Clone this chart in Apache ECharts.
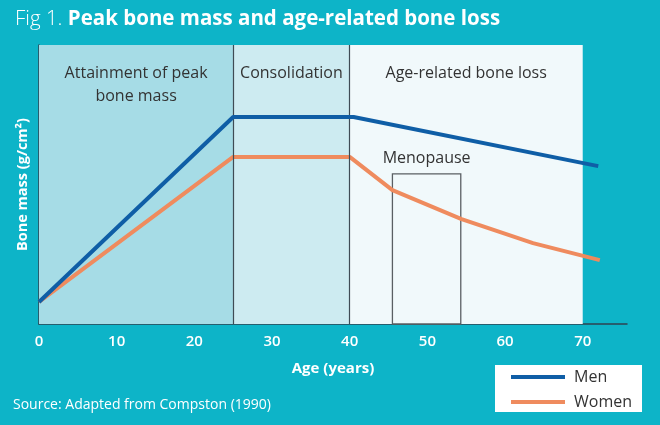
<!DOCTYPE html>
<html>
<head>
<meta charset="utf-8">
<script src="https://cdn.jsdelivr.net/npm/echarts@6/dist/echarts.min.js"></script>
<style>
html,body{margin:0;padding:0;background:#0db4c8;}
#c{width:660px;height:425px;}
</style>
</head>
<body>
<div id="c"></div>
<script>
// ---- data ----
var menData = [[0, 7.9], [25, 74.2], [40.5, 74.2], [72, 56.6]];
var womenData = [[0, 7.9], [25, 59.9], [40, 59.9], [45.5, 48.0], [54.4, 37.6], [63.6, 29.0], [72.2, 22.9]];
var phaseBounds = [0, 25, 40, 70];
var phaseNames = ['Attainment of peak\nbone mass', 'Consolidation', 'Age-related bone loss'];
var menopauseRange = [45.5, 54.3];
var menopauseTop = 53.8;
var xTicks = [0, 10, 20, 30, 40, 50, 60, 70];

var FONT = 'Open Sans';
var phaseColors = ['#a6dce6', '#cdebf1', '#f1f9fb'];

var phaseAreas = [];
for (var i = 0; i < phaseNames.length; i++) {
  phaseAreas.push([
    {xAxis: phaseBounds[i], itemStyle: {color: phaseColors[i]},
     label: {show: true, position: 'insideTop', distance: 17, formatter: phaseNames[i],
             color: '#333', fontFamily: FONT, fontSize: 16, lineHeight: 23}},
    {xAxis: phaseBounds[i + 1]}
  ]);
}

var chart = echarts.init(document.getElementById('c'));
chart.setOption({
  backgroundColor: '#0db4c8',
  animation: false,
  title: {
    left: 10, top: 4,
    text: '{a|Fig 1. }{b|Peak bone mass and age-related bone loss}',
    textStyle: {
      rich: {
        a: {color: '#fff', fontFamily: FONT, fontWeight: 300, fontSize: 20.5},
        b: {color: '#fff', fontFamily: FONT, fontWeight: 'bold', fontSize: 20.5}
      }
    }
  },
  legend: {
    left: 495, top: 365, width: 152, height: 48,
    orient: 'vertical',
    backgroundColor: '#fff',
    padding: [4, 10, 2, 16],
    itemGap: 9,
    itemWidth: 54, itemHeight: 4,
    icon: 'rect',
    textStyle: {color: '#333', fontFamily: FONT, fontSize: 16, padding: [0, 0, 0, 4]},
    data: ['Men', 'Women']
  },
  grid: {left: 39, right: 33, top: 45, bottom: 101},
  xAxis: {
    type: 'value', min: 0, max: 75.7, interval: 10,
    name: 'Age (years)', nameLocation: 'middle', nameGap: 37,
    nameTextStyle: {color: '#fff', fontFamily: FONT, fontWeight: 'bold', fontSize: 15},
    axisLine: {show: true, lineStyle: {color: '#2f4150', width: 1.5}},
    axisTick: {show: false},
    splitLine: {show: false},
    axisLabel: {color: '#fff', fontFamily: FONT, fontWeight: 600, fontSize: 15, margin: 10, showMaxLabel: false,
      formatter: function (v) { return xTicks.indexOf(v) >= 0 ? String(v) : ''; }}
  },
  yAxis: {
    type: 'value', min: 0, max: 100,
    name: 'Bone mass (g/cm²)', nameLocation: 'middle', nameGap: 9, nameRotate: 90,
    nameTextStyle: {color: '#fff', fontFamily: FONT, fontWeight: 'bold', fontSize: 14.5},
    axisLine: {show: true, lineStyle: {color: '#2f4150', width: 1.5}},
    axisTick: {show: false}, axisLabel: {show: false}, splitLine: {show: false}
  },
  series: [
    {
      type: 'line', name: 'phases', data: [], z: 1, silent: true,
      markArea: {silent: true, data: phaseAreas},
      markLine: {
        silent: true, symbol: 'none', label: {show: false},
        lineStyle: {color: '#3f4b55', width: 1.2, type: 'solid'},
        data: [{xAxis: phaseBounds[1]}, {xAxis: phaseBounds[2]}]
      }
    },
    {
      type: 'line', name: 'box', data: [], z: 2, silent: true,
      markArea: {
        silent: true,
        itemStyle: {color: 'rgba(0,0,0,0)', borderColor: '#5a5f63', borderWidth: 1.3},
        label: {show: true, position: 'top', distance: 7, color: '#333', fontFamily: FONT, fontSize: 16},
        data: [[{xAxis: menopauseRange[0], yAxis: 0, name: 'Menopause'}, {xAxis: menopauseRange[1], yAxis: menopauseTop}]]
      }
    },
    {
      type: 'line', name: 'Men', data: menData, z: 5,
      showSymbol: false, symbol: 'none',
      lineStyle: {color: '#0f5ea6', width: 4, join: 'round'},
      itemStyle: {color: '#0f5ea6'}
    },
    {
      type: 'line', name: 'Women', data: womenData, z: 4,
      showSymbol: false, symbol: 'none',
      lineStyle: {color: '#ef8b5e', width: 4, join: 'round'},
      itemStyle: {color: '#ef8b5e'}
    }
  ],
  graphic: [{
    type: 'text', left: 13, top: 398,
    style: {text: 'Source: Adapted from Compston (1990)', fill: '#fff', font: '14px "Open Sans"'}
  }]
});
</script>
</body>
</html>
